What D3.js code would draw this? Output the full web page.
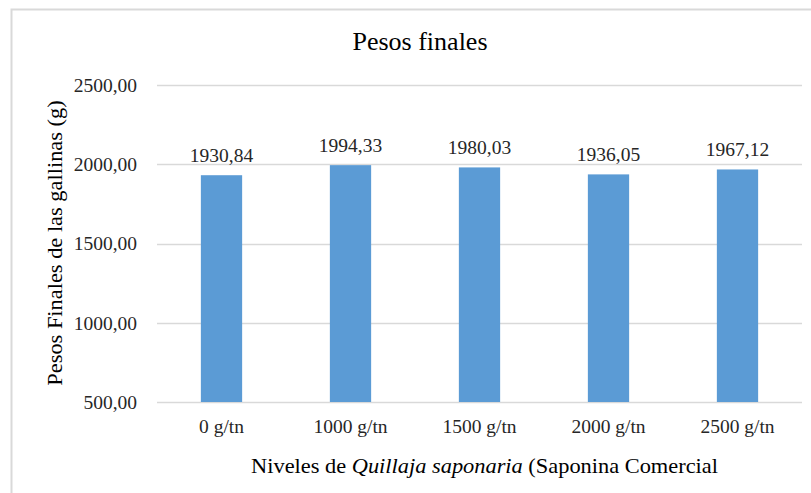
<!DOCTYPE html>
<html>
<head>
<meta charset="utf-8">
<script src="https://cdn.jsdelivr.net/npm/d3@7"></script>
<style>
  body { margin: 0; background: #fff; }
</style>
</head>
<body>
<div id="chart"></div>
<script>
// Datos
const niveles = ['0 g/tn', '1000 g/tn', '1500 g/tn', '2000 g/tn', '2500 g/tn'];
const pesos = [1930.84, 1994.33, 1980.03, 1936.05, 1967.12];
const ticksY = [500, 1000, 1500, 2000, 2500];

const width = 811;
const height = 493;
const margin = { top: 85, right: 9, bottom: 91, left: 157 };
const fuente = "'Liberation Serif', 'Times New Roman', serif";

const fmt = v => d3.format('.2f')(v).replace('.', ',');

const svg = d3.select('#chart')
  .append('svg')
  .attr('width', width)
  .attr('height', height)
  .style('font-family', fuente);

// Marco (solo se ven borde izquierdo y superior)
svg.append('path')
  .attr('d', `M11.5,${height} L11.5,9.5 L${width},9.5`)
  .attr('fill', 'none')
  .attr('stroke', '#d9d9d9')
  .attr('stroke-width', 2);

const x = d3.scaleBand()
  .domain(niveles)
  .range([margin.left, width - margin.right])
  .paddingInner(0.68)
  .paddingOuter(0.34);

const y = d3.scaleLinear()
  .domain([500, 2500])
  .range([height - margin.bottom, margin.top]);

// Líneas de cuadrícula
svg.append('g')
  .selectAll('line')
  .data(ticksY)
  .join('line')
  .attr('x1', margin.left)
  .attr('x2', width - margin.right)
  .attr('y1', d => Math.round(y(d)) + 0.5)
  .attr('y2', d => Math.round(y(d)) + 0.5)
  .attr('stroke', '#d9d9d9')
  .attr('stroke-width', 1.5);

// Etiquetas eje Y
svg.append('g')
  .selectAll('text')
  .data(ticksY)
  .join('text')
  .attr('x', 137)
  .attr('y', d => y(d))
  .attr('dy', '0.35em')
  .attr('text-anchor', 'end')
  .attr('font-size', 19.5)
  .attr('fill', '#262626')
  .text(d => fmt(d));

// Barras
svg.append('g')
  .selectAll('rect')
  .data(pesos)
  .join('rect')
  .attr('x', (d, i) => x(niveles[i]))
  .attr('y', d => y(d))
  .attr('width', x.bandwidth())
  .attr('height', d => y(500) - y(d))
  .attr('fill', '#5b9bd5');

// Valores sobre las barras
svg.append('g')
  .selectAll('text')
  .data(pesos)
  .join('text')
  .attr('x', (d, i) => x(niveles[i]) + x.bandwidth() / 2)
  .attr('y', d => y(d) - 13)
  .attr('text-anchor', 'middle')
  .attr('font-size', 19.5)
  .attr('fill', '#262626')
  .text(d => fmt(d));

// Etiquetas eje X
svg.append('g')
  .selectAll('text')
  .data(niveles)
  .join('text')
  .attr('x', d => x(d) + x.bandwidth() / 2)
  .attr('y', 433)
  .attr('text-anchor', 'middle')
  .attr('font-size', 19.5)
  .attr('fill', '#262626')
  .text(d => d);

// Título
svg.append('text')
  .attr('x', 420)
  .attr('y', 50)
  .attr('text-anchor', 'middle')
  .attr('font-size', 26)
  .attr('fill', '#000')
  .text('Pesos finales');

// Título eje X (texto algo ensanchado como en el original)
const tx = svg.append('text')
  .attr('transform', `translate(${(margin.left + width - margin.right) / 2 + 5},473) scale(1.12,1)`)
  .attr('text-anchor', 'middle')
  .attr('font-size', 20)
  .attr('fill', '#000');
tx.append('tspan').text('Niveles de ');
tx.append('tspan').attr('font-style', 'italic').text('Quillaja saponaria');
tx.append('tspan').text(' (Saponina Comercial');

// Título eje Y
svg.append('text')
  .attr('transform', 'translate(62,243) rotate(-90) scale(1.12,1)')
  .attr('text-anchor', 'middle')
  .attr('font-size', 20)
  .attr('fill', '#000')
  .text('Pesos Finales de las gallinas (g)');
</script>
</body>
</html>
